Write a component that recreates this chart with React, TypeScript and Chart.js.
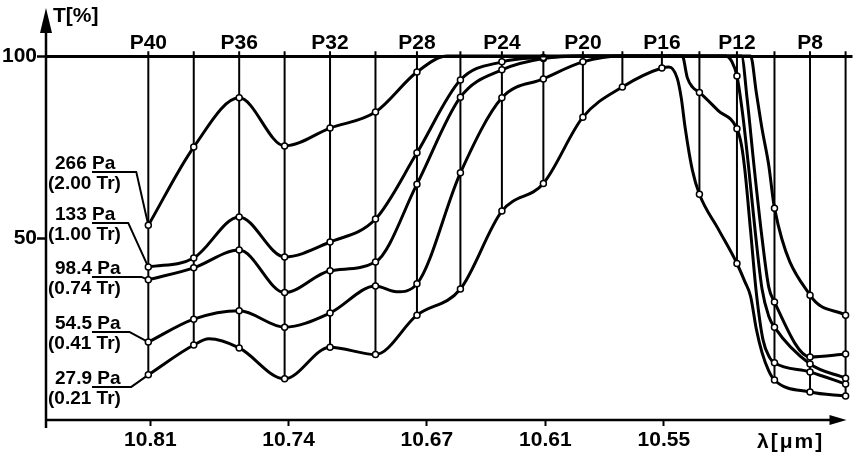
import React, { useEffect, useRef } from 'react';
import { Chart, registerables } from 'chart.js';

Chart.register(...registerables);

// ---- data ----
const pLines = ['P40', 'P38', 'P36', 'P34', 'P32', 'P30', 'P28', 'P26', 'P24', 'P22', 'P20', 'P18', 'P16', 'P14', 'P12', 'P10', 'P8', 'P6'];
const wavelengths = [10.811, 10.788, 10.765, 10.742, 10.719, 10.696, 10.675, 10.653, 10.632, 10.611, 10.591, 10.571, 10.551, 10.532, 10.513, 10.494, 10.476, 10.458];
const topLabelLines = ['P40', 'P36', 'P32', 'P28', 'P24', 'P20', 'P16', 'P12', 'P8'];
const xTickValues = [10.81, 10.74, 10.67, 10.61, 10.55];
const xTickLabels = ['10.81', '10.74', '10.67', '10.61', '10.55'];
const yTickValues = [50, 100];

const pressureLabels = ['266 Pa', '133 Pa', '98.4 Pa', '54.5 Pa', '27.9 Pa'];
const torrLabels = ['(2.00 Tr)', '(1.00 Tr)', '(0.74 Tr)', '(0.41 Tr)', '(0.21 Tr)'];

// transmission T [%] at each P line
const t266 = [53.5, 75, 88.5, 75.3, 80.2, 84.6, 95.6, 100, 100, 100, 100, 100, 100, 100, 100, 58.2, 34.3, 28.8];
const t133 = [42, 44.5, 55.8, 44.8, 48.9, 55.2, 73.4, 93.4, 98.4, 99.6, 100, 100, 100, 100, 100, 32.4, 17.3, 18.1];
const t98 = [38.5, 41.8, 46.7, 35, 41, 43.4, 64.8, 88.7, 96.2, 99.3, 100, 100, 100, 100, 94.5, 25.5, 15.4, 11.5];
const t54 = [21.4, 27.7, 30, 25.5, 29.4, 36.8, 37.4, 67.9, 88.5, 93.7, 98.4, 100, 100, 90, 80, 15.7, 13.2, 9.9];
const t28 = [12.4, 20.6, 19.8, 11.3, 20, 18, 28.8, 36, 57.4, 65, 83.2, 91.5, 96.7, 62, 43, 11, 7.7, 6.6];

// curve points between the P lines (no marker) [wavelength, T]
const s266 = [[10.6595, 100], [10.5061, 100], [10.5032, 90], [10.5003, 80], [10.4969, 70]];
const s133 = [[10.5107, 100], [10.5078, 88], [10.5044, 70], [10.5003, 50], [10.4969, 36.5]];
const s98 = [[10.5188, 100], [10.5156, 98.5], [10.5101, 84], [10.5072, 70], [10.5038, 52], [10.5003, 36], [10.4969, 28.5]];
const s54 = [[10.6853, 35.2], [10.5407, 100], [10.5381, 94], [10.5356, 91.5], [10.5225, 85], [10.5107, 75.5], [10.509, 68.7], [10.5061, 52], [10.5032, 35], [10.4998, 22], [10.4963, 17]];
const s28 = [[10.7803, 22.3], [10.5474, 97], [10.5433, 94], [10.5412, 88.5], [10.5392, 80.2], [10.5356, 68.7], [10.5225, 52.5], [10.509, 38], [10.5061, 34], [10.5032, 25], [10.5003, 18.5], [10.4969, 13.5]];

const seriesValues = [t266, t133, t98, t54, t28];
const seriesShape = [s266, s133, s98, s54, s28];

// ---- layout ----
const X_MIN = 10.4545;
const X_MAX = 10.8628;
const Y_MAX = 101.65;
const LINE_TOP = 101.3;
const LABEL_RULE_T = [68.1, 54.1, 39.3, 24.2, 9.1];
const LEADER_GAP = [12, 20, 7, 19, 17];
const SANS = '"Liberation Sans", Arial, sans-serif';

function buildCurve(vals: number[], shape: number[][]) {
  const pts: any[] = vals.map((v, i) => ({ x: wavelengths[i], y: v, m: true }));
  shape.forEach(([x, y]) => pts.push({ x, y, m: false }));
  pts.sort((a, b) => b.x - a.x);
  return pts;
}

const deco = {
  id: 'deco',
  beforeDatasetsDraw(chart: any) {
    const { ctx } = chart;
    const xs = chart.scales.x;
    const ys = chart.scales.y;
    const p40 = xs.getPixelForValue(wavelengths[0]);
    ctx.save();
    ctx.strokeStyle = '#000';
    ctx.lineWidth = 2;
    ctx.lineJoin = 'round';
    seriesValues.forEach((s, k) => {
      const ry = ys.getPixelForValue(LABEL_RULE_T[k]);
      ctx.beginPath();
      ctx.moveTo(92, ry);
      ctx.lineTo(p40 - LEADER_GAP[k], ry);
      ctx.lineTo(p40, ys.getPixelForValue(s[0]));
      ctx.stroke();
    });
    ctx.restore();
  },
  afterDraw(chart: any) {
    const { ctx, chartArea } = chart;
    const ys = chart.scales.y;
    const L = chartArea.left;
    const B = chartArea.bottom;
    const R = chartArea.right;
    ctx.save();
    ctx.strokeStyle = '#000';
    ctx.fillStyle = '#000';
    ctx.lineWidth = 2.5;
    // y axis with arrow
    ctx.beginPath();
    ctx.moveTo(L, B + 8);
    ctx.lineTo(L, 30);
    ctx.stroke();
    ctx.beginPath();
    ctx.moveTo(L, 8);
    ctx.lineTo(L - 6, 33);
    ctx.lineTo(L + 6, 33);
    ctx.closePath();
    ctx.fill();
    // x axis with arrow
    const tip = R - 6;
    ctx.beginPath();
    ctx.moveTo(L - 1, B);
    ctx.lineTo(tip - 14, B);
    ctx.stroke();
    ctx.beginPath();
    ctx.moveTo(tip, B);
    ctx.lineTo(tip - 17, B - 5);
    ctx.lineTo(tip - 17, B + 5);
    ctx.closePath();
    ctx.fill();
    // axis titles
    ctx.textBaseline = 'alphabetic';
    ctx.textAlign = 'left';
    ctx.font = 'bold 21px ' + SANS;
    ctx.fillText('T[%]', L + 7, 22);
    (ctx as any).letterSpacing = '2px';
    ctx.fillText('λ[μm]', 757, 448);
    (ctx as any).letterSpacing = '0px';
    // pressure labels
    ctx.font = 'bold 19px ' + SANS;
    pressureLabels.forEach((lab, k) => {
      const ry = ys.getPixelForValue(LABEL_RULE_T[k]);
      ctx.fillText(lab, 55, ry - 3);
      ctx.fillText(torrLabels[k], 48, ry + 17);
    });
    ctx.restore();
  },
};

export default function App() {
  const ref = useRef<HTMLCanvasElement>(null);
  useEffect(() => {
    const canvas = ref.current;
    if (!canvas) return;
    const vData: any[] = [];
    wavelengths.forEach((w, i) => {
      const lo = Math.min(...seriesValues.map((s) => s[i]));
      vData.push({ x: w, y: LINE_TOP }, { x: w, y: lo }, { x: w, y: null });
    });
    const curveSets = seriesValues.map((vals, k) => ({
      label: pressureLabels[k],
      data: buildCurve(vals, seriesShape[k]),
      borderColor: '#000',
      borderWidth: 3,
      cubicInterpolationMode: 'monotone',
      pointRadius: (c: any) => (c.raw && c.raw.m && c.raw.y < 99.9 ? 3 : 0),
      pointBackgroundColor: '#fff',
      pointBorderColor: '#000',
      pointBorderWidth: 1.5,
      fill: false,
      order: 0,
    }));
    const tickFont = { family: SANS, size: 21, weight: 'bold' };
    const chart = new Chart(canvas, {
      type: 'line',
      data: {
        datasets: [
          ...curveSets,
          {
            label: 'P lines',
            data: vData,
            borderColor: '#000',
            borderWidth: 2,
            pointRadius: 0,
            spanGaps: false,
            fill: false,
            order: 1,
          },
        ] as any,
      },
      options: {
        responsive: false,
        animation: false,
        devicePixelRatio: 1,
        events: [],
        layout: { padding: 0 },
        plugins: { legend: { display: false }, tooltip: { enabled: false } },
        scales: {
          x: {
            type: 'linear',
            position: 'bottom',
            min: X_MIN,
            max: X_MAX,
            reverse: true,
            afterFit: (s: any) => { s.height = 39; },
            afterBuildTicks: (s: any) => { s.ticks = xTickValues.map((v) => ({ value: v })); },
            border: { display: false },
            grid: { drawOnChartArea: false, drawTicks: true, tickLength: 6, tickColor: '#000', tickWidth: 2 },
            ticks: {
              autoSkip: false,
              maxRotation: 0,
              minRotation: 0,
              padding: 2,
              color: '#000',
              font: tickFont,
              callback: (_v: any, i: number) => xTickLabels[i],
            },
          },
          xTop: {
            type: 'linear',
            position: 'top',
            min: X_MIN,
            max: X_MAX,
            reverse: true,
            afterFit: (s: any) => { s.height = 50; },
            afterBuildTicks: (s: any) => {
              s.ticks = topLabelLines.map((l) => ({ value: wavelengths[pLines.indexOf(l)] }));
            },
            border: { display: false },
            grid: { display: false, drawTicks: false },
            ticks: {
              autoSkip: false,
              maxRotation: 0,
              minRotation: 0,
              padding: -6,
              color: '#000',
              font: tickFont,
              callback: (_v: any, i: number) => topLabelLines[i],
            },
          },
          y: {
            type: 'linear',
            min: 0,
            max: Y_MAX,
            afterFit: (s: any) => { s.width = 46; },
            afterBuildTicks: (s: any) => { s.ticks = yTickValues.map((v) => ({ value: v })); },
            border: { display: false },
            grid: {
              color: (c: any) => (c.tick && c.tick.value === 100 ? '#000' : 'rgba(0,0,0,0)'),
              lineWidth: 3,
              drawTicks: true,
              tickLength: 9,
              tickColor: '#000',
              tickWidth: 2.5,
            },
            ticks: {
              padding: 0,
              color: '#000',
              font: tickFont,
              callback: (v: any) => String(v),
            },
          },
        },
      } as any,
      plugins: [deco],
    });
    return () => chart.destroy();
  }, []);
  return (
    <div style={{ position: 'absolute', left: 0, top: 0, width: 858, height: 459, background: '#fff' }}>
      <canvas ref={ref} width={858} height={459} style={{ display: 'block' }} />
    </div>
  );
}
